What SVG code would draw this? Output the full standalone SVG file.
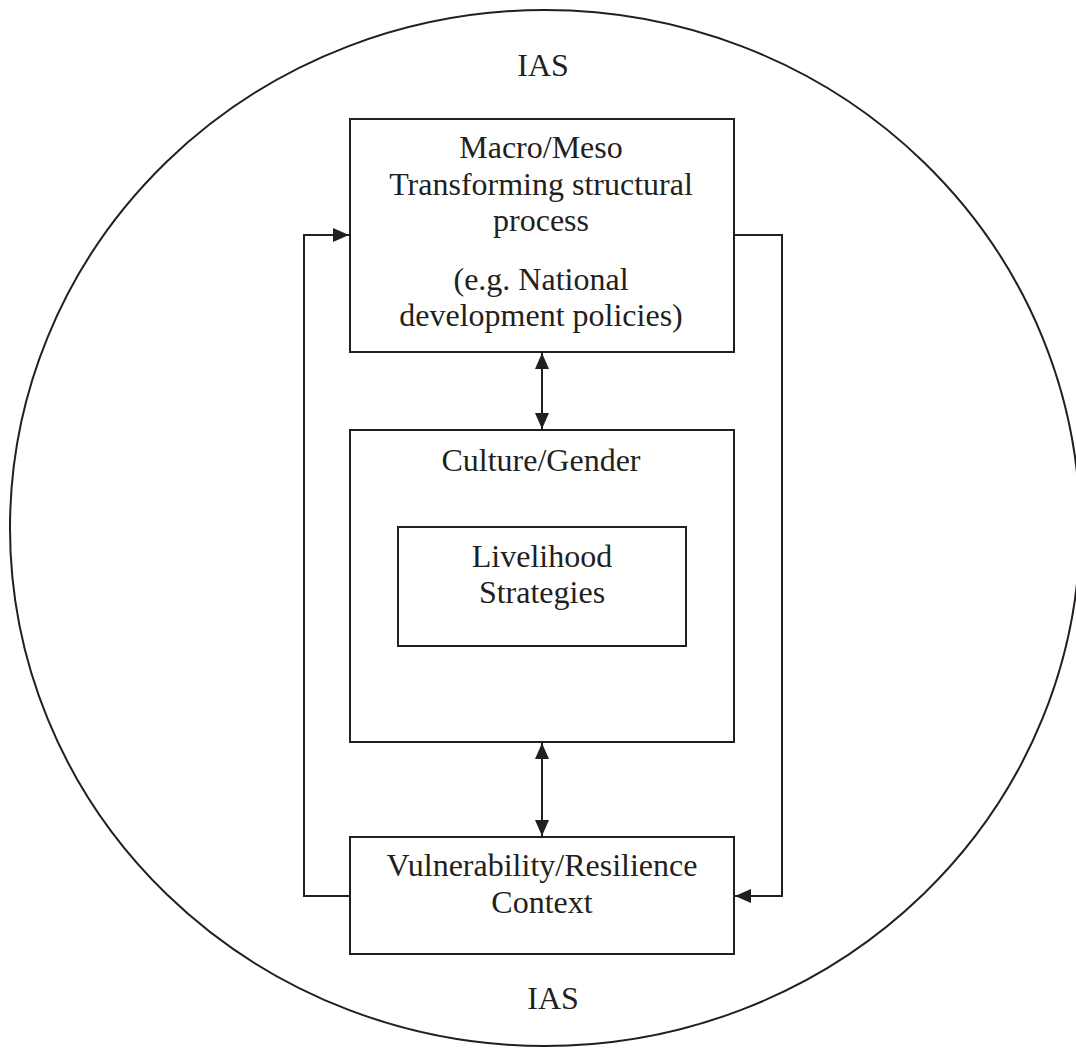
<svg xmlns="http://www.w3.org/2000/svg" width="1076" height="1056" viewBox="0 0 1076 1056">
<defs>
<style>
.ln{fill:none;stroke:#231f20;stroke-width:2}
.bx{fill:#fff;stroke:#231f20;stroke-width:2}
.t{font-family:"Liberation Serif","Times New Roman",serif;font-size:32px;fill:#231f20;text-anchor:middle}
</style>
<marker id="ah" viewBox="0 0 16 14" refX="16" refY="7" markerWidth="16" markerHeight="14" markerUnits="userSpaceOnUse" orient="auto-start-reverse">
<path d="M0,0 L16,7 L0,14 Z" fill="#231f20"/>
</marker>
</defs>
<rect width="1076" height="1056" fill="#fff"/>
<g id="ias">
<ellipse class="ln" cx="545" cy="528" rx="535" ry="518"/>
<text class="t" x="543" y="76">IAS</text>
<text class="t" x="553" y="1009">IAS</text>
</g>
<g id="connectors">
<line class="ln" x1="542" y1="353" x2="542" y2="429" marker-start="url(#ah)" marker-end="url(#ah)"/>
<line class="ln" x1="542" y1="743" x2="542" y2="836" marker-start="url(#ah)" marker-end="url(#ah)"/>
<polyline class="ln" points="350,896 304,896 304,235 349,235" marker-end="url(#ah)"/>
<polyline class="ln" points="734,235 782,235 782,896 735,896" marker-end="url(#ah)"/>
</g>
<g id="macro">
<rect class="bx" x="350" y="119" width="384" height="233"/>
<text class="t" x="541" y="158">Macro/Meso</text>
<text class="t" x="541" y="195">Transforming structural</text>
<text class="t" x="541" y="231">process</text>
<text class="t" x="541" y="290">(e.g. National</text>
<text class="t" x="541" y="326">development policies)</text>
</g>
<g id="culture">
<rect class="bx" x="350" y="430" width="384" height="312"/>
<text class="t" x="541" y="471">Culture/Gender</text>
</g>
<g id="livelihood">
<rect class="bx" x="398" y="527" width="288" height="119"/>
<text class="t" x="542" y="567">Livelihood</text>
<text class="t" x="542" y="603">Strategies</text>
</g>
<g id="vulnerability">
<rect class="bx" x="350" y="837" width="384" height="117"/>
<text class="t" x="542" y="876">Vulnerability/Resilience</text>
<text class="t" x="542" y="913">Context</text>
</g>
</svg>
